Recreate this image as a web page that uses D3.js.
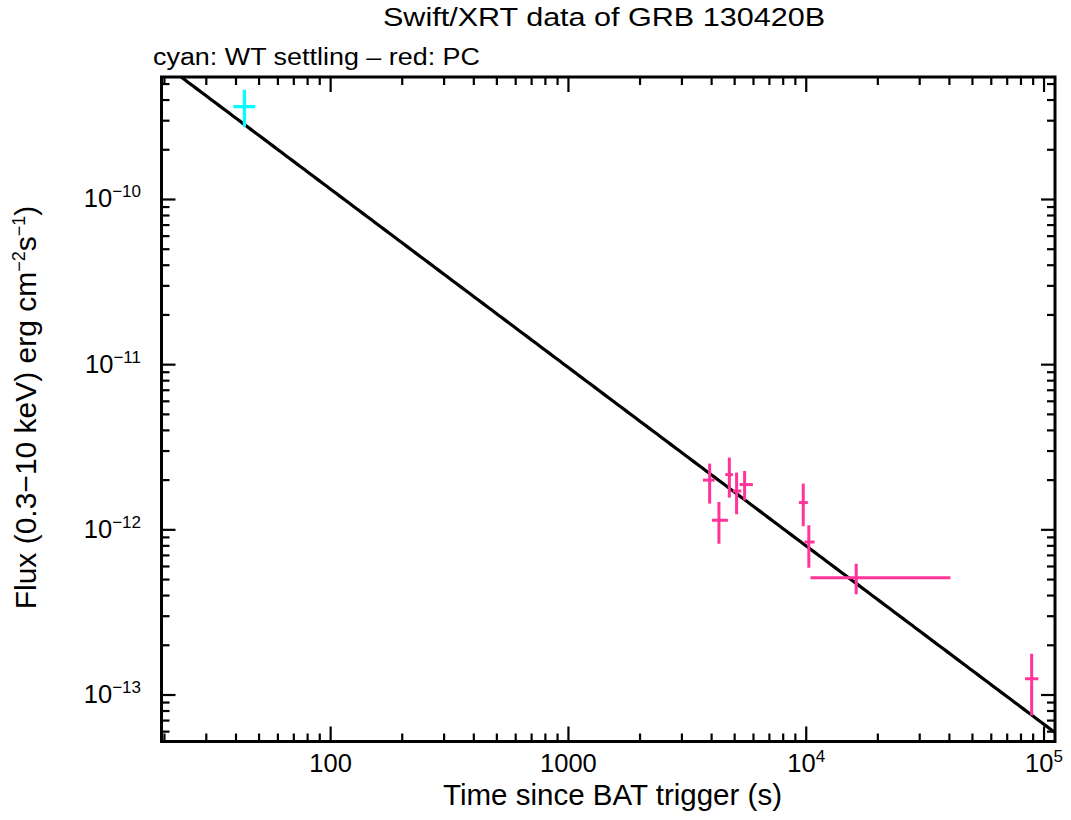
<!DOCTYPE html>
<html><head><meta charset="utf-8">
<script src="https://cdn.jsdelivr.net/npm/d3@7"></script>
<style>html,body{margin:0;padding:0;background:#fff;}svg{display:block;font-family:"Liberation Sans",Arial,Helvetica,sans-serif;}</style>
</head><body>
<script>
// ---- data ----
const wtTime   = [43.4];
const wtTimeLo = [39.0];
const wtTimeHi = [48.2];
const wtFlux   = [3.65e-10];
const wtFluxLo = [2.76e-10];
const wtFluxHi = [4.61e-10];

const pcTime   = [3925, 4294, 4749, 5095, 5506, 9714, 10254, 16225, 88700];
const pcTimeLo = [3678, 4012, 4567, 4916, 5245, 9310, 9837, 10425, 83220];
const pcTimeHi = [4119, 4684, 4916, 5333, 5965, 10155, 10836, 40390, 94620];
const pcFlux   = [2.0e-12, 1.142e-12, 2.16e-12, 1.718e-12, 1.879e-12, 1.462e-12, 8.43e-13, 5.13e-13, 1.253e-13];
const pcFluxLo = [1.441e-12, 8.25e-13, 1.568e-12, 1.241e-12, 1.51e-12, 1.05e-12, 5.9e-13, 4.07e-13, 7.51e-14];
const pcFluxHi = [2.518e-12, 1.474e-12, 2.739e-12, 2.222e-12, 2.272e-12, 1.905e-12, 1.065e-12, 6.24e-13, 1.777e-13];

// power-law fit: F = fitNorm * (t / fitT0)^(-fitIndex)
const fitNorm = [9.6e-12];
const fitT0 = [1000];
const fitIndex = [1.08];

const xDomain = [19.44, 1.112e5];
const yDomain = [5.23e-14, 5.516e-10];
const xTickValues = [100, 1000, 1e4, 1e5];
const xTickLabels = ["100", "1000", "10^4", "10^5"];
const yTickValues = [1e-10, 1e-11, 1e-12, 1e-13];
const yTickLabels = ["10^−10", "10^−11", "10^−12", "10^−13"];

const titleText = "Swift/XRT data of GRB 130420B";
const subtitleText = "cyan: WT settling – red: PC";
const xLabelText = "Time since BAT trigger (s)";

// ---- layout ----
const W = 1071, H = 820;
const L = 161.5, R = 1055, T = 77, B = 741.5;
const svg = d3.select("body").append("svg").attr("width", W).attr("height", H);
const x = d3.scaleLog().domain(xDomain).range([L, R]);
const y = d3.scaleLog().domain(yDomain).range([B, T]);

svg.append("defs").append("clipPath").attr("id", "clip")
  .append("rect").attr("x", L).attr("y", T).attr("width", R - L).attr("height", B - T);

// minor/major ticks
function tickList(dom) {
  const out = [];
  const d0 = Math.floor(Math.log10(dom[0])), d1 = Math.ceil(Math.log10(dom[1]));
  for (let d = d0; d <= d1; d++) for (let k = 1; k <= 9; k++) {
    const v = k * Math.pow(10, d);
    if (v >= dom[0] && v <= dom[1]) out.push({ v, major: k === 1 });
  }
  return out;
}
const xt = tickList(xDomain), yt = tickList(yDomain);
const MAJ = 15, MIN = 8;
const tg = svg.append("g").attr("stroke", "#000").attr("stroke-width", 2.2);
xt.forEach(t => {
  const px = x(t.v), len = t.major ? MAJ : MIN;
  tg.append("line").attr("x1", px).attr("x2", px).attr("y1", B).attr("y2", B - len);
  tg.append("line").attr("x1", px).attr("x2", px).attr("y1", T).attr("y2", T + len);
});
yt.forEach(t => {
  const py = y(t.v), len = t.major ? MAJ - 1 : MIN;
  tg.append("line").attr("y1", py).attr("y2", py).attr("x1", L).attr("x2", L + len);
  tg.append("line").attr("y1", py).attr("y2", py).attr("x1", R).attr("x2", R - len);
});

// tick labels
function putLabel(sel, lab, big, small, raise) {
  const parts = lab.split("^");
  sel.append("tspan").attr("font-size", big).text(parts[0]);
  if (parts[1]) sel.append("tspan").attr("font-size", small).attr("dy", -raise).text(parts[1]);
}
xTickValues.forEach((v, i) => {
  const t = svg.append("text").attr("x", x(v)).attr("y", 772).attr("text-anchor", "middle");
  putLabel(t, xTickLabels[i], 25.5, 17, 10);
});
yTickValues.forEach((v, i) => {
  const t = svg.append("text").attr("x", 141).attr("y", y(v) + 8).attr("text-anchor", "end");
  putLabel(t, yTickLabels[i], 25.5, 17, 10);
});

// fit line
const fitT = d3.range(0, 201).map(i => xDomain[0] * Math.pow(xDomain[1] / xDomain[0], i / 200));
const line = d3.line().x(d => x(d)).y(d => y(fitNorm[0] * Math.pow(d / fitT0[0], -fitIndex[0])));
svg.append("path").attr("clip-path", "url(#clip)").datum(fitT).attr("d", line)
  .attr("fill", "none").attr("stroke", "#000").attr("stroke-width", 3.2);

// error bars
function drawSeries(t, tlo, thi, f, flo, fhi, color, sw) {
  const g = svg.append("g").attr("stroke", color).attr("stroke-width", sw).attr("clip-path", "url(#clip)");
  t.forEach((v, i) => {
    g.append("line").attr("x1", x(tlo[i])).attr("x2", x(thi[i])).attr("y1", y(f[i])).attr("y2", y(f[i]));
    g.append("line").attr("x1", x(v)).attr("x2", x(v)).attr("y1", y(flo[i])).attr("y2", y(fhi[i]));
  });
}
drawSeries(wtTime, wtTimeLo, wtTimeHi, wtFlux, wtFluxLo, wtFluxHi, "#00ffff", 3.2);
drawSeries(pcTime, pcTimeLo, pcTimeHi, pcFlux, pcFluxLo, pcFluxHi, "#ff3399", 3);

// frame
svg.append("rect").attr("x", L).attr("y", T).attr("width", R - L).attr("height", B - T)
  .attr("fill", "none").attr("stroke", "#000").attr("stroke-width", 3);

// titles
svg.append("text").attr("x", 383).attr("y", 26).attr("font-size", 25.5)
  .attr("textLength", 442).attr("lengthAdjust", "spacingAndGlyphs").text(titleText);
svg.append("text").attr("x", 153).attr("y", 65).attr("font-size", 23.5)
  .attr("textLength", 327).attr("lengthAdjust", "spacingAndGlyphs").text(subtitleText);
svg.append("text").attr("x", 443).attr("y", 805).attr("font-size", 29)
  .attr("textLength", 339).attr("lengthAdjust", "spacingAndGlyphs").text(xLabelText);

// y label
const yl = svg.append("text").attr("transform", "translate(36,407.5) rotate(-90)")
  .attr("text-anchor", "middle").attr("font-size", 30);
yl.append("tspan").text("Flux (0.3−10 keV) erg cm");
yl.append("tspan").attr("font-size", 18).attr("dy", -11).text("−2");
yl.append("tspan").attr("dy", 11).text("s");
yl.append("tspan").attr("font-size", 18).attr("dy", -11).text("−1");
yl.append("tspan").attr("dy", 11).text(")");
</script>
</body></html>
